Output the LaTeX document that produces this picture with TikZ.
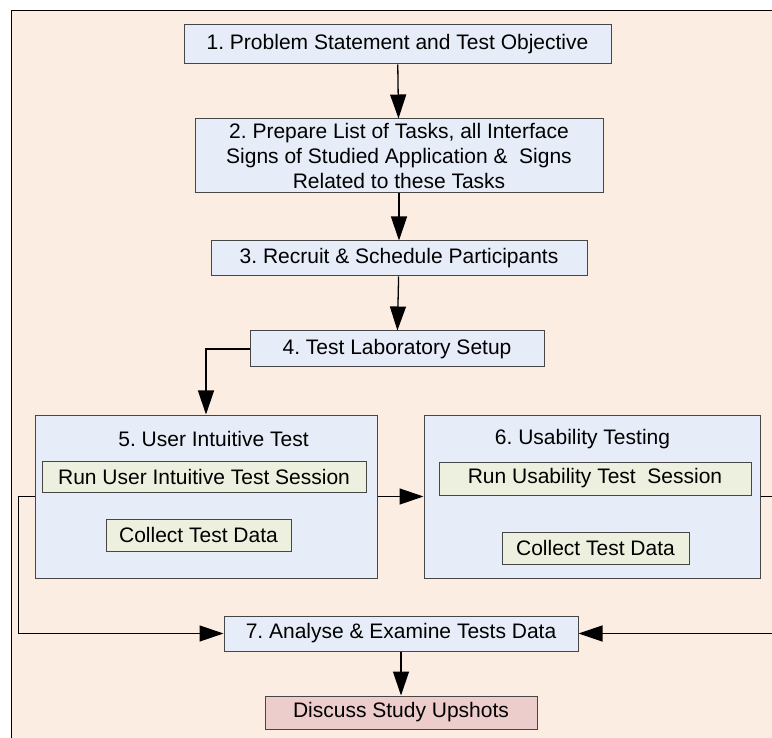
\documentclass[tikz,border=0pt]{standalone}
\usepackage{fontspec}
\setmainfont{Liberation Sans}
\usepackage{tikz}
\usetikzlibrary{arrows.meta, positioning}
\definecolor{framebg}{RGB}{252,237,226}
\definecolor{boxblue}{RGB}{230,237,248}
\definecolor{subgreen}{RGB}{237,240,223}
\definecolor{upshotred}{RGB}{236,205,203}
\definecolor{boxline}{RGB}{70,70,70}
\frenchspacing

\begin{document}
\begin{tikzpicture}[x=1pt, y=-1pt,
    box/.style={draw=boxline, fill=boxblue, line width=1pt, inner sep=0pt, align=center, font=\fontsize{21}{25}\selectfont},
    subbox/.style={box, fill=subgreen},
    title/.style={inner sep=0pt, font=\fontsize{21}{25}\selectfont},
    arr/.style={-{Triangle[length=24pt,width=16pt]}, line width=1.3pt}]
    \useasboundingbox (0,0) rectangle (772,738);
    \clip (0,0) rectangle (772,738);
    \draw[fill=framebg, line width=1pt] (11,11) rectangle (800,760);
    \node[box, minimum width=427, minimum height=39] (s1) at (397.5,44.5) {1. Problem Statement and Test Objective};
    \node[box, minimum width=408, minimum height=74] (s2) at (399,156) {2. Prepare List of Tasks, all Interface\\Signs of Studied Application \&~~Signs\\Related to these Tasks};
    \node[box, minimum width=376, minimum height=35] (s3) at (399,258.5) {3. Recruit \& Schedule Participants};
    \node[box, minimum width=294, minimum height=36] (s4) at (397,349) {4. Test Laboratory Setup};
    \node[box, minimum width=342, minimum height=163] (s5) at (206,496.5) {};
    \node[box, minimum width=336, minimum height=163] (s6) at (592,496.5) {};
    \node[title] (t5) at (213.5,439) {5. User Intuitive Test};
    \node[subbox, minimum width=324, minimum height=31] (run5) at (204,476.5) {Run User Intuitive Test Session};
    \node[subbox, minimum width=185, minimum height=32] (col5) at (198.5,535) {Collect Test Data};
    \node[title] (t6) at (582.5,439) {6. Usability Testing};
    \node[subbox, minimum width=312, minimum height=33] (run6) at (595,478.5) {Run Usability Test~~Session};
    \node[subbox, minimum width=187, minimum height=32] (col6) at (595.5,548) {Collect Test Data};
    \node[box, minimum width=354, minimum height=35] (s7) at (401,633.5) {7. Analyse \& Examine Tests Data};
    \node[box, fill=upshotred, minimum width=272, minimum height=33] (up) at (401,712.5) {Discuss Study Upshots};
    \draw[arr] (s1) -- (s2);
    \draw[arr] (s2) -- (s3);
    \draw[arr] (s3) -- (s4);
    \draw[arr] (s4.west) -| (s5.north);
    \draw[arr] (s5) -- (s6);
    \draw[arr] (s5.west) -- ++(-16,0) |- (s7.west);
    \draw[arr] (s6.east) -- ++(30,0) |- (s7.east);
    \draw[arr] (s7) -- (up);
\end{tikzpicture}
\end{document}
